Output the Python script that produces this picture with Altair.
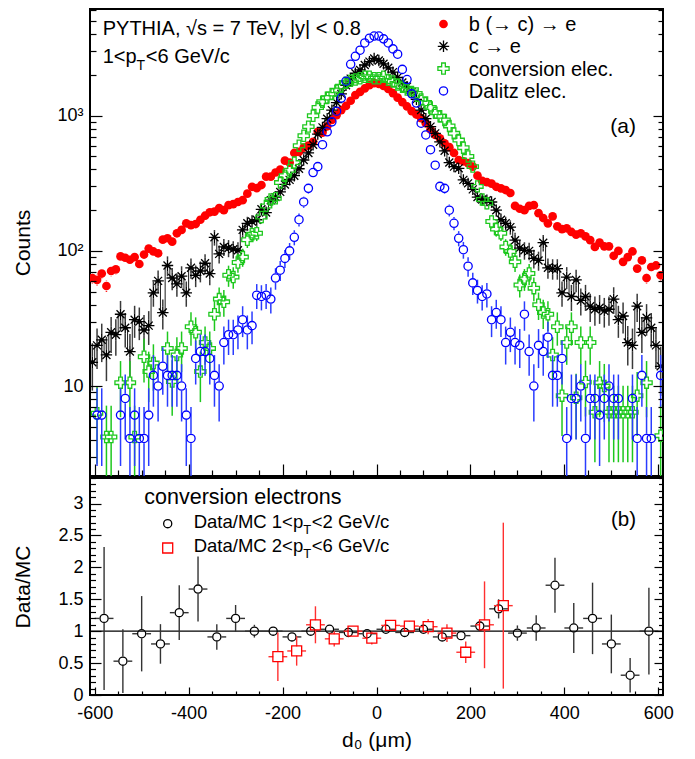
import altair as alt
import pandas as pd

FONT = "Liberation Sans"

# ---------------------------------------------------------------- data ----
d0_centres = [-605 + 10 * k for k in range(122)]

b_to_e = [
    63, 61, 68, 55, 71, 73, 91, 89, 86, 90,
    80, 94, 104, 99, 96, 121, 124, 117, 135, 143,
    160, 155, 158, 170, 182, 193, 195, 207, 200, 218,
    222, 230, 237, 265, 298, 291, 307, 354, 354, 380,
    400, 465, 450, 530, 540, 580, 600, 640, 760, 750,
    835, 930, 1010, 1100, 1180, 1290, 1420, 1500, 1590, 1680,
    1740, 1720, 1660, 1580, 1470, 1360, 1260, 1170, 1080, 1020,
    960, 880, 790, 720, 680, 625, 585, 530, 470, 460,
    445, 420, 360, 330, 322, 314, 298, 290, 282, 268,
    215, 205, 200, 215, 218, 190, 175, 160, 180, 152,
    145, 147, 138, 132, 135, 128, 120, 107, 115, 108,
    108, 92, 100, 83, 90, 99, 74, 85, 63, 76,
    78, 66]

c_to_e = [
    15, 20, 22, 17, 25, 24, 34, 27, 18, 31,
    30, 26, 28, 49, 60, 35, 78, 63, 57, 65,
    49, 75, 66, 71, 81, 68, 126, 95, 107, 105,
    103, 101, 143, 160, 165, 170, 203, 192, 237, 250,
    273, 310, 335, 360, 405, 470, 530, 610, 730, 820,
    950, 1100, 1250, 1450, 1680, 1880, 2060, 2180, 2370, 2510,
    2650, 2560, 2420, 2260, 2100, 1920, 1760, 1640, 1500, 1320,
    1100, 950, 830, 740, 640, 550, 450, 420, 408, 335,
    316, 285, 250, 240, 237, 230, 200, 170, 160, 150,
    120, 105, 101, 100, 88, 85, 115, 75, 74, 74,
    49, 64, 46, 61, 43, 46, 39, 37, 38, 36,
    37, 44, 31, 33, 21, 20, 39, 25, 32, 27,
    20, 14]

conv_e = [
    None, 6.3, None, 4.2, 4.2, None, 10.6, None, 10.6, 4.2,
    None, 16.5, 12.8, 14.8, None, None, 19, 10.8, 17, 19,
    None, 27.5, 25, 12.8, 21, 19, 34, 44, 42, 66,
    64, 82, 90, 121, 133, 135, 178, 215, 240, 245,
    320, 360, 395, 450, 600, 710, 830, 1000, 1150, 1270,
    1360, 1450, 1530, 1650, 1750, 1810, 1850, 1890, 1940, 1940,
    1890, 1890, 1940, 1840, 1790, 1700, 1640, 1560, 1500, 1460,
    1320, 1250, 1150, 1050, 990, 930, 840, 740, 660, 580,
    500, 420, 300, 240, 225, 165, 145, 135, 107, 99,
    83, 56, 62, 68, 53, 40, 35, 34, 17, 27.5,
    8.5, 21, 27.5, 8.2, 21, 10.7, 21, 6.4, 10.6, 10,
    6.4, 6.4, 6.4, 6.4, 6.4, 6.4, 8.5, None, 10.6, None,
    None, 4.3]

dalitz_e = [
    None, 6.1, 6.1, None, None, None, 6.1, 8.1, 4.1, 6.1,
    4.1, 4.1, 6.1, 12, 10, 14, 12, 12, 12, 10,
    6.1, 4.1, 16, 18, 18, 16, 12, 10, 21, 24,
    24, 26, 31, 26, 28, 47, 46, 47, 44, 63,
    72, 88, 100, 126, 170, 230, 290, 380, 420, 610,
    760, 900, 1080, 1350, 1800, 2400, 2750, 3050, 3450, 3740,
    3880, 3880, 3700, 3450, 3120, 2850, 2200, 1850, 1450, 1240,
    880, 720, 560, 430, 300, 290, 200, 160, 124, 102,
    77, 58, 51, 46, 48, 31, 35, 31, 21, 25,
    21, 20, 34, 18, 10, 20, 18, 23, 12, 12,
    16, 4.1, 8.1, 8.1, 10, 4.1, 8.1, 8.1, 6.1, 8.1,
    10, 8.1, 8.1, None, None, 8.1, 4.1, 12, 4.1, 4.1,
    None, 12]

# entry weights of the simulated histograms (error = sqrt(weight * content))
weight_b, weight_c, weight_conv, weight_dalitz = 0.5, 2.2, 2.1, 2.05

ratio_x_lowpt = [-580 + 40 * k for k in range(30)]
ratio_lowpt = [1.2, 0.53, 0.96, 0.8, 1.29, 1.66, 0.91, 1.2, 1.0, 1.0,
               0.91, 1.0, 1.03, 0.98, 0.96, 1.03, 0.98, 1.03, 0.91, 0.93,
               1.08, 1.35, 0.97, 1.05, 1.72, 1.05, 1.2, 0.8, 0.31, 1.0]
ratio_lowpt_err = [1.12, 0.5, 0.59, 0.31, 0.43, 0.51, 0.2, 0.21, 0.1, 0.07,
                   0.06, 0.05, 0.04, 0.03, 0.03, 0.03, 0.03, 0.04, 0.05, 0.06,
                   0.08, 0.15, 0.12, 0.2, 0.43, 0.39, 0.56, 0.46, 0.27, 0.68]
ratio_x_highpt = [-210, -170, -130, -90, -50, -10, 30, 70, 110, 150, 190, 230, 270]
ratio_highpt = [0.6, 0.69, 1.1, 0.88, 1.0, 0.89, 1.09, 1.08, 1.07, 0.97, 0.67, 1.1, 1.4]
ratio_highpt_err = [0.38, 0.23, 0.29, 0.12, 0.07, 0.1, 0.08, 0.08, 0.12, 0.14, 0.17, 0.68, 1.3]
ratio_half_bin = 20

x_label_values = [-600, -400, -200, 0, 200, 400, 600]
x_tick_values = list(range(-600, 601, 50))
Y_TOP_DOMAIN = [2.163, 6153]
y_top_label_values = [10, 100, 1000]
y_top_tick_values = [m * 10 ** p for p in range(0, 4) for m in range(1, 10)
                     if Y_TOP_DOMAIN[0] <= m * 10 ** p <= Y_TOP_DOMAIN[1]]
y_bot_label_values = [0, 0.5, 1, 1.5, 2, 2.5, 3]
y_bot_tick_values = [round(0.1 * i, 1) for i in range(35)]

# ---------------------------------------------------------- geometry ----
W, H_TOP, H_BOT = 573, 467, 217
PX_PER_DECADE = 135.2
PX_PER_UNIT_BOT = H_BOT / 3.4
PX_PER_UM = W / 1220.0

xscale = alt.Scale(domain=[-610, 610], nice=False, zero=False)
yscale_top = alt.Scale(type="log", domain=Y_TOP_DOMAIN, nice=False)
yscale_bot = alt.Scale(domain=[0, 3.4], nice=False, zero=False)

STAR = "M -1 0 L 1 0 M 0 -1 L 0 1 M -0.7 -0.7 L 0.7 0.7 M -0.7 0.7 L 0.7 -0.7"
OPEN_CROSS = ("M -0.33 -1 L 0.33 -1 L 0.33 -0.33 L 1 -0.33 L 1 0.33 L 0.33 0.33 "
              "L 0.33 1 L -0.33 1 L -0.33 0.33 L -1 0.33 L -1 -0.33 L -0.33 -0.33 Z")

RED, BLACK, GREEN, BLUE = "#ff0000", "#000000", "#1ec81e", "#0000ff"

series_cfg = [
    # name, values, weight, colour, err colour, shape, size, filled, radius px
    ("b", b_to_e, weight_b, RED, RED, "circle", 76, True, 4.9),
    ("c", c_to_e, weight_c, BLACK, "#3a3a3a", STAR, 130, False, 5.7),
    ("conv", conv_e, weight_conv, GREEN, GREEN, OPEN_CROSS, 125, False, 5.6),
    ("dalitz", dalitz_e, weight_dalitz, BLUE, "#2a3cff", "circle", 68, False, 4.7),
]


def X(field="x"):
    return alt.X(f"{field}:Q", scale=xscale, axis=None)


def YT(field):
    return alt.Y(f"{field}:Q", scale=yscale_top, axis=None)


def YB(field):
    return alt.Y(f"{field}:Q", scale=yscale_bot, axis=None)


def tick_size(test, major, minor):
    return {"condition": {"test": test, "value": major}, "value": minor}


def tick_axis(orient, offset, values, size):
    return alt.Axis(orient=orient, offset=offset, values=values, labels=False,
                    domain=False, grid=False, title=None, ticks=True,
                    tickSize=size, tickColor="black", tickWidth=1.2, zindex=2)


def txt(s, x, y, size, align="left", baseline="alphabetic", color="black"):
    return alt.Chart(pd.DataFrame({"t": [s]})).mark_text(
        align=align, baseline=baseline, font=FONT, fontSize=size, color=color
    ).encode(text="t:N", x=alt.value(x), y=alt.value(y))


def marker(x, y, shape, size, color, filled, sw=1.3):
    return alt.Chart(pd.DataFrame({"t": [0]})).mark_point(
        shape=shape, size=size, color=color, filled=filled, opacity=1,
        strokeWidth=sw
    ).encode(x=alt.value(x), y=alt.value(y))


X_MAJOR = "datum.value % 200 == 0"
Y_LOG_MAJOR = "datum.value == 10 || datum.value == 100 || datum.value == 1000"
Y_LIN_MAJOR = "abs(datum.value * 2 - round(datum.value * 2)) < 0.001"

# ------------------------------------------------------------ top panel ----
dummy_top = pd.DataFrame({"x": [0], "y": [100]})
top_layers = []

top_layers.append(alt.Chart(dummy_top).mark_point(opacity=0).encode(
    x=X(),
    y=alt.Y("y:Q", scale=yscale_top, axis=alt.Axis(
        orient="left", values=y_top_label_values,
        labelExpr="datum.value == 10 ? '10' : (datum.value == 100 ? '10\u00b2' : '10\u00b3')",
        ticks=False, tickSize=0, domain=False, grid=False, title="Counts",
        titleFontSize=21, labelFontSize=18, labelPadding=7, titlePadding=19,
        minExtent=38, maxExtent=38, labelFlush=False, labelOverlap=False))))

top_layers.append(alt.Chart(dummy_top).mark_point(opacity=0).encode(
    x=alt.X("x:Q", scale=xscale, axis=tick_axis(
        "top", -H_TOP, x_tick_values, tick_size(X_MAJOR, 12, 6))),
    y=alt.Y("y:Q", scale=yscale_top, axis=tick_axis(
        "right", -W, y_top_tick_values, tick_size(Y_LOG_MAJOR, 12, 6)))))

top_layers.append(alt.Chart(dummy_top).mark_point(opacity=0).encode(
    x=X(),
    y=alt.Y("y:Q", scale=yscale_top, axis=tick_axis(
        "left", -W, y_top_tick_values, tick_size(Y_LOG_MAJOR, 10, 5)))))

for name, vals, w, col, ecol, shape, size, filled, rad in series_cfg:
    pts = pd.DataFrame({"x": d0_centres, "v": vals}).dropna()
    g = 10 ** (rad / PX_PER_DECADE)
    segs = []
    for x, v in zip(pts["x"], pts["v"]):
        e = (w * v) ** 0.5
        hi, lo = v + e, max(v - e, 0.3)
        if hi > v * g:
            segs.append({"x": x, "y1": v * g, "y2": hi})
        if lo < v / g:
            segs.append({"x": x, "y1": lo, "y2": v / g})
    segs = pd.DataFrame(segs)
    if name == "c":
        top_layers.append(alt.Chart(pts).mark_line(
            interpolate="step", color="black", strokeWidth=0.9, clip=True
        ).encode(x=X(), y=YT("v")))
    if len(segs):
        top_layers.append(alt.Chart(segs).mark_rule(
            color=ecol, strokeWidth=1.5, clip=True
        ).encode(x=X(), y=YT("y1"), y2="y2:Q"))
    top_layers.append(alt.Chart(pts).mark_point(
        shape=shape, size=size, color=col, filled=filled, opacity=1,
        strokeWidth=1.3, clip=True
    ).encode(x=X(), y=YT("v")))

# annotations (positions in pixels inside the top panel)
top_layers += [
    txt("PYTHIA, \u221as = 7 TeV, |y| < 0.8", 12.7, 25.7, 20),
    txt("1<p", 12.7, 53.7, 20),
    txt("T", 46.6, 60.5, 14),
    txt("<6 GeV/c", 55.8, 53.7, 20),
    txt("(a)", 546, 123.5, 21, align="right"),
]
legend_rows = [("b (\u2192 c) \u2192 e", "circle", 76, RED, True),
               ("c \u2192 e", STAR, 130, BLACK, False),
               ("conversion elec.", OPEN_CROSS, 125, GREEN, False),
               ("Dalitz elec.", "circle", 68, BLUE, False)]
for i, (lab, shp, sz, col, fil) in enumerate(legend_rows):
    yy = 15.0 + 22.3 * i
    top_layers.append(marker(353.5, yy, shp, sz, col, fil))
    top_layers.append(txt(lab, 378.7, yy + 7, 20))

top = alt.layer(*top_layers).resolve_axis(
    x="independent", y="independent").properties(width=W, height=H_TOP)

# --------------------------------------------------------- bottom panel ----
dummy_bot = pd.DataFrame({"x": [0], "y": [1.0]})
bot_layers = []

bot_layers.append(alt.Chart(dummy_bot).mark_point(opacity=0).encode(
    x=alt.X("x:Q", scale=xscale, axis=alt.Axis(
        orient="bottom", values=x_label_values,
        labelExpr="datum.value < 0 ? '-' + (-datum.value) : '' + datum.value",
        ticks=False, tickSize=0, domain=False, grid=False,
        title="d\u2080 (\u03bcm)", titleFontSize=21, labelFontSize=18,
        labelPadding=9, titlePadding=7, labelFlush=False, labelOverlap=False)),
    y=alt.Y("y:Q", scale=yscale_bot, axis=alt.Axis(
        orient="left", values=y_bot_label_values, labelExpr="'' + datum.value",
        ticks=False, tickSize=0, domain=False, grid=False, title="Data/MC",
        titleFontSize=21, labelFontSize=18, labelPadding=7, titlePadding=19,
        minExtent=38, maxExtent=38, labelFlush=False, labelOverlap=False))))

bot_layers.append(alt.Chart(dummy_bot).mark_point(opacity=0).encode(
    x=alt.X("x:Q", scale=xscale, axis=tick_axis(
        "top", -H_BOT, x_tick_values, tick_size(X_MAJOR, 8, 4))),
    y=alt.Y("y:Q", scale=yscale_bot, axis=tick_axis(
        "right", -W, y_bot_tick_values, tick_size(Y_LIN_MAJOR, 11, 5.5)))))

bot_layers.append(alt.Chart(dummy_bot).mark_point(opacity=0).encode(
    x=X(),
    y=alt.Y("y:Q", scale=yscale_bot, axis=tick_axis(
        "left", -W, y_bot_tick_values, tick_size(Y_LIN_MAJOR, 9, 4.5)))))

bot_layers.append(alt.Chart(pd.DataFrame({"y": [1.0]})).mark_rule(
    color="black", strokeWidth=1.2).encode(y=YB("y")))

gy = 4.6 / PX_PER_UNIT_BOT
gx = 4.6 / PX_PER_UM
for xs, vs, es, col, ecol, shape, size in [
        (ratio_x_lowpt, ratio_lowpt, ratio_lowpt_err, BLACK, "#333333", "circle", 66),
        (ratio_x_highpt, ratio_highpt, ratio_highpt_err, RED, "#ff3030", "square", 100)]:
    vseg, hseg = [], []
    for x, v, e in zip(xs, vs, es):
        if e > gy:
            vseg.append({"x": x, "y1": v + gy, "y2": v + e})
            vseg.append({"x": x, "y1": max(v - e, 0), "y2": v - gy})
        hseg.append({"x1": x - ratio_half_bin, "x2": x - gx, "y": v})
        hseg.append({"x1": x + gx, "x2": x + ratio_half_bin, "y": v})
    bot_layers.append(alt.Chart(pd.DataFrame(vseg)).mark_rule(
        color=ecol, strokeWidth=1.4, clip=True).encode(x=X(), y=YB("y1"), y2="y2:Q"))
    bot_layers.append(alt.Chart(pd.DataFrame(hseg)).mark_rule(
        color=ecol, strokeWidth=1.4, clip=True).encode(x=X("x1"), x2="x2:Q", y=YB("y")))
    bot_layers.append(alt.Chart(pd.DataFrame({"x": xs, "v": vs})).mark_point(
        shape=shape, size=size, color=col, filled=False, opacity=1,
        strokeWidth=1.3, clip=True).encode(x=X(), y=YB("v")))

bot_layers += [
    txt("conversion electrons", 54.3, 25.7, 21.5),
    marker(77.7, 45.7, "circle", 66, BLACK, False),
    txt("Data/MC 1<p", 103.7, 50, 18.5),
    txt("T", 213.2, 56, 13),
    txt("<2 GeV/c", 221.7, 50, 18.5),
    marker(77.7, 70, "square", 100, RED, False),
    txt("Data/MC 2<p", 103.7, 74, 18.5),
    txt("T", 213.2, 80, 13),
    txt("<6 GeV/c", 221.7, 74, 18.5),
    txt("(b)", 546, 48, 20.5, align="right"),
]

bottom = alt.layer(*bot_layers).resolve_axis(
    x="independent", y="independent").properties(width=W, height=H_BOT)

chart = alt.vconcat(top, bottom, spacing=-2).properties(
    padding={"left": 3, "top": 0, "right": 5, "bottom": 5}
).configure_view(stroke="black", strokeWidth=2).configure_axis(
    labelFont=FONT, titleFont=FONT, labelColor="black", titleColor="black",
    titleFontWeight="normal"
).configure_text(font=FONT)

chart.save("out.html", embed_options={"renderer": "svg", "actions": False})
